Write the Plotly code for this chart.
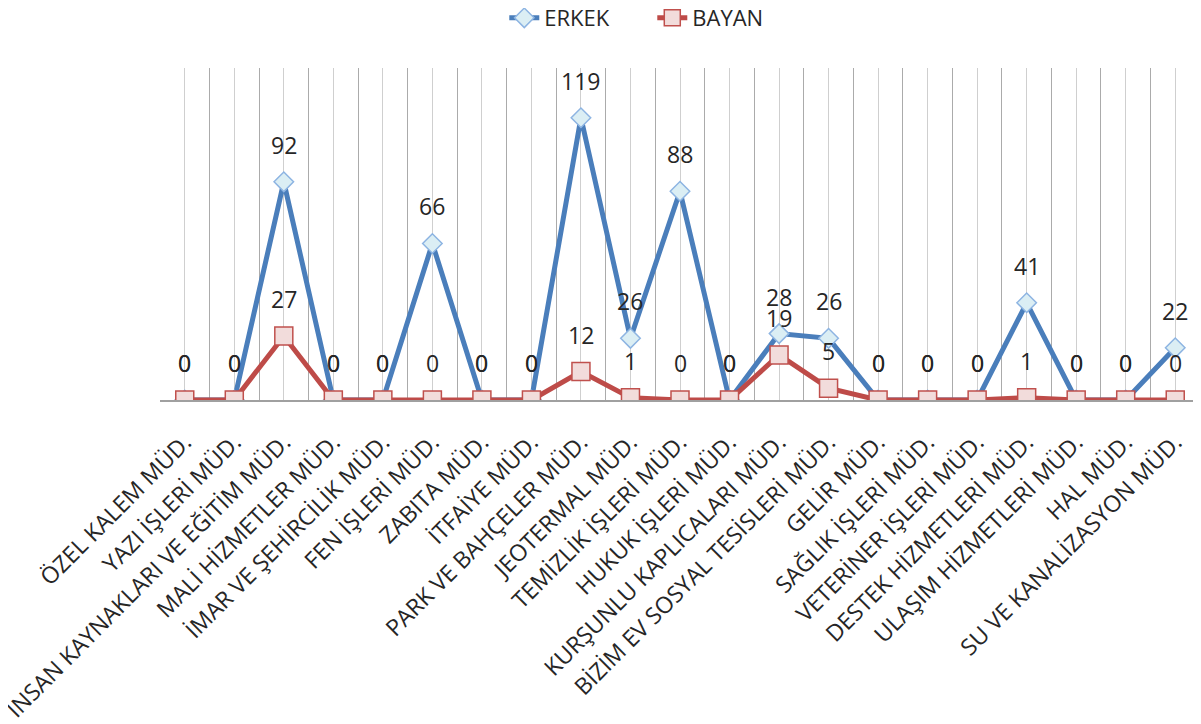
import plotly.graph_objects as go

categories = [
    "ÖZEL KALEM MÜD.",
    "YAZI İŞLERİ MÜD.",
    "İNSAN KAYNAKLARI VE EĞİTİM MÜD.",
    "MALİ HİZMETLER MÜD.",
    "İMAR VE ŞEHİRCİLİK MÜD.",
    "FEN İŞLERİ MÜD.",
    "ZABITA MÜD.",
    "İTFAİYE MÜD.",
    "PARK VE BAHÇELER MÜD.",
    "JEOTERMAL MÜD.",
    "TEMİZLİK İŞLERİ MÜD.",
    "HUKUK İŞLERİ MÜD.",
    "KURŞUNLU KAPLICALARI MÜD.",
    "BİZİM EV SOSYAL TESİSLERİ MÜD.",
    "GELİR MÜD.",
    "SAĞLIK İŞLERİ MÜD.",
    "VETERİNER İŞLERİ MÜD.",
    "DESTEK HİZMETLERİ MÜD.",
    "ULAŞIM HİZMETLERİ MÜD.",
    "HAL MÜD.",
    "SU VE KANALİZASYON MÜD.",
]
erkek = [0, 0, 92, 0, 0, 66, 0, 0, 119, 26, 88, 0, 28, 26, 0, 0, 0, 41, 0, 0, 22]
bayan = [0, 0, 27, 0, 0, 0, 0, 0, 12, 1, 0, 0, 19, 5, 0, 0, 0, 1, 0, 0, 0]

FONT = "Open Sans"
TXT = "#262626"

xs = list(range(len(categories)))

fig = go.Figure()
fig.add_trace(go.Scatter(
    x=xs, y=erkek, name="ERKEK", mode="lines+markers",
    line=dict(color="#4A7EBB", width=5),
    marker=dict(symbol="diamond", size=15, color="#DBEEF4",
                line=dict(color="#8DB4E2", width=1.5)),
))
fig.add_trace(go.Scatter(
    x=xs, y=bayan, name="BAYAN", mode="lines+markers",
    line=dict(color="#BE4B48", width=5),
    marker=dict(symbol="square", size=18, color="#F2DCDB",
                line=dict(color="#C0504D", width=1.5)),
))

annotations = []
for series in (erkek, bayan):
    for i, v in enumerate(series):
        annotations.append(dict(
            x=xs[i], y=v, text=str(v), showarrow=False, yshift=37,
            font=dict(family=FONT, size=23, color=TXT),
        ))

fig.update_layout(
    width=1193, height=716,
    margin=dict(l=152, r=1, t=60, b=324, autoexpand=False),
    paper_bgcolor="white", plot_bgcolor="white",
    font=dict(family=FONT, color=TXT),
    showlegend=True,
    legend=dict(
        orientation="h", xref="container", yref="container",
        x=0.416, xanchor="left", y=0.986, yanchor="middle",
        entrywidth=103, entrywidthmode="pixels",
        font=dict(family=FONT, size=22, color=TXT),
        bgcolor="rgba(0,0,0,0)",
    ),
    annotations=annotations,
    xaxis=dict(
        range=[-0.5, len(categories) - 0.5],
        tickmode="array", tickvals=xs, ticktext=categories,
        tickangle=-45, tickfont=dict(family=FONT, size=23, color=TXT),
        ticks="outside", ticklen=18, tickcolor="rgba(0,0,0,0)",
        ticklabeloverflow="allow",
        showgrid=True, gridcolor="#CFCFCF", gridwidth=1,
        minor=dict(tickmode="linear", tick0=-0.5, dtick=1,
                   showgrid=True, gridcolor="#ABABAB", gridwidth=1),
        showline=True, linecolor="#A0A0A0", linewidth=1.5,
        zeroline=False, automargin=False,
    ),
    yaxis=dict(
        range=[0, 140], showgrid=False, showticklabels=False,
        zeroline=False, showline=False, ticks="",
    ),
)

fig.write_html("out.html")
